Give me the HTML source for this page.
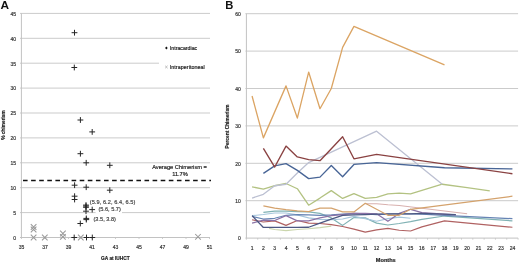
<!DOCTYPE html>
<html><head><meta charset="utf-8"><style>
html,body{margin:0;padding:0;background:#fff;}
body{width:520px;height:263px;position:relative;overflow:hidden;font-family:"Liberation Sans", sans-serif;}
svg{will-change:transform;}
svg text{font-family:"Liberation Sans", sans-serif;}
</style></head><body>
<svg width="520" height="263" viewBox="0 0 520 263" style="position:absolute;left:0;top:0">
<line x1="20" y1="212.6" x2="210.0" y2="212.6" stroke="#cbcbcb" stroke-width="1"/>
<line x1="20" y1="187.7" x2="210.0" y2="187.7" stroke="#cbcbcb" stroke-width="1"/>
<line x1="20" y1="162.8" x2="210.0" y2="162.8" stroke="#cbcbcb" stroke-width="1"/>
<line x1="20" y1="137.9" x2="210.0" y2="137.9" stroke="#cbcbcb" stroke-width="1"/>
<line x1="20" y1="113.0" x2="210.0" y2="113.0" stroke="#cbcbcb" stroke-width="1"/>
<line x1="20" y1="88.1" x2="210.0" y2="88.1" stroke="#cbcbcb" stroke-width="1"/>
<line x1="20" y1="63.2" x2="159" y2="63.2" stroke="#cbcbcb" stroke-width="1"/>
<line x1="20" y1="38.3" x2="210.0" y2="38.3" stroke="#cbcbcb" stroke-width="1"/>
<line x1="20" y1="13.4" x2="210.0" y2="13.4" stroke="#cbcbcb" stroke-width="1"/>
<line x1="21.4" y1="13.399999999999977" x2="21.4" y2="238.0" stroke="#c2c2c2" stroke-width="1"/>
<line x1="20" y1="237.5" x2="210.0" y2="237.5" stroke="#c2c2c2" stroke-width="1"/>
<line x1="21.5" y1="237.5" x2="21.5" y2="239.0" stroke="#c2c2c2" stroke-width="0.8"/>
<line x1="45.0" y1="237.5" x2="45.0" y2="239.0" stroke="#c2c2c2" stroke-width="0.8"/>
<line x1="68.5" y1="237.5" x2="68.5" y2="239.0" stroke="#c2c2c2" stroke-width="0.8"/>
<line x1="92.0" y1="237.5" x2="92.0" y2="239.0" stroke="#c2c2c2" stroke-width="0.8"/>
<line x1="115.5" y1="237.5" x2="115.5" y2="239.0" stroke="#c2c2c2" stroke-width="0.8"/>
<line x1="139.0" y1="237.5" x2="139.0" y2="239.0" stroke="#c2c2c2" stroke-width="0.8"/>
<line x1="162.5" y1="237.5" x2="162.5" y2="239.0" stroke="#c2c2c2" stroke-width="0.8"/>
<line x1="186.0" y1="237.5" x2="186.0" y2="239.0" stroke="#c2c2c2" stroke-width="0.8"/>
<line x1="209.5" y1="237.5" x2="209.5" y2="239.0" stroke="#c2c2c2" stroke-width="0.8"/>
<text x="16.0" y="239.8" text-anchor="end" font-size="5" fill="#333" stroke="#333" stroke-width="0.18">0</text>
<text x="16.0" y="214.9" text-anchor="end" font-size="5" fill="#333" stroke="#333" stroke-width="0.18">5</text>
<text x="16.0" y="190.0" text-anchor="end" font-size="5" fill="#333" stroke="#333" stroke-width="0.18">10</text>
<text x="16.0" y="165.1" text-anchor="end" font-size="5" fill="#333" stroke="#333" stroke-width="0.18">15</text>
<text x="16.0" y="140.2" text-anchor="end" font-size="5" fill="#333" stroke="#333" stroke-width="0.18">20</text>
<text x="16.0" y="115.3" text-anchor="end" font-size="5" fill="#333" stroke="#333" stroke-width="0.18">25</text>
<text x="16.0" y="90.4" text-anchor="end" font-size="5" fill="#333" stroke="#333" stroke-width="0.18">30</text>
<text x="16.0" y="65.5" text-anchor="end" font-size="5" fill="#333" stroke="#333" stroke-width="0.18">35</text>
<text x="16.0" y="40.6" text-anchor="end" font-size="5" fill="#333" stroke="#333" stroke-width="0.18">40</text>
<text x="16.0" y="15.7" text-anchor="end" font-size="5" fill="#333" stroke="#333" stroke-width="0.18">45</text>
<text x="21.5" y="249.35" text-anchor="middle" font-size="5" fill="#333" stroke="#333" stroke-width="0.18">35</text>
<text x="45.0" y="249.35" text-anchor="middle" font-size="5" fill="#333" stroke="#333" stroke-width="0.18">37</text>
<text x="68.5" y="249.35" text-anchor="middle" font-size="5" fill="#333" stroke="#333" stroke-width="0.18">39</text>
<text x="92.0" y="249.35" text-anchor="middle" font-size="5" fill="#333" stroke="#333" stroke-width="0.18">41</text>
<text x="115.5" y="249.35" text-anchor="middle" font-size="5" fill="#333" stroke="#333" stroke-width="0.18">43</text>
<text x="139.0" y="249.35" text-anchor="middle" font-size="5" fill="#333" stroke="#333" stroke-width="0.18">45</text>
<text x="162.5" y="249.35" text-anchor="middle" font-size="5" fill="#333" stroke="#333" stroke-width="0.18">47</text>
<text x="186.0" y="249.35" text-anchor="middle" font-size="5" fill="#333" stroke="#333" stroke-width="0.18">49</text>
<text x="209.5" y="249.35" text-anchor="middle" font-size="5" fill="#333" stroke="#333" stroke-width="0.18">51</text>
<line x1="23" y1="180.4" x2="211" y2="180.4" stroke="#111" stroke-width="1.5" stroke-dasharray="4.6 3.5"/>
<text x="179.5" y="168.85" text-anchor="middle" font-size="5.7" fill="#222" stroke="#222" stroke-width="0.18">Average Chimerism =</text>
<text x="180" y="175.75" text-anchor="middle" font-size="5.7" fill="#222" stroke="#222" stroke-width="0.18">11.7%</text>
<path d="M30.8 224.2L36.4 229.8M30.8 229.8L36.4 224.2" stroke="#9a9a9a" stroke-width="1.05" fill="none"/>
<path d="M30.8 226.7L36.4 232.3M30.8 232.3L36.4 226.7" stroke="#9a9a9a" stroke-width="1.05" fill="none"/>
<path d="M30.8 234.7L36.4 240.3M30.8 240.3L36.4 234.7" stroke="#9a9a9a" stroke-width="1.05" fill="none"/>
<path d="M42.0 234.7L47.6 240.3M42.0 240.3L47.6 234.7" stroke="#9a9a9a" stroke-width="1.05" fill="none"/>
<path d="M60.1 230.7L65.7 236.3M60.1 236.3L65.7 230.7" stroke="#9a9a9a" stroke-width="1.05" fill="none"/>
<path d="M60.1 234.1L65.7 239.7M60.1 239.7L65.7 234.1" stroke="#9a9a9a" stroke-width="1.05" fill="none"/>
<path d="M78.0 234.7L83.6 240.3M78.0 240.3L83.6 234.7" stroke="#9a9a9a" stroke-width="1.05" fill="none"/>
<path d="M195.2 234.0L200.8 239.6M195.2 239.6L200.8 234.0" stroke="#9a9a9a" stroke-width="1.05" fill="none"/>
<path d="M71.6 32.7H77.4M74.5 29.8V35.6" stroke="#262626" stroke-width="1.0" fill="none"/>
<path d="M71.4 67.5H77.2M74.3 64.6V70.4" stroke="#262626" stroke-width="1.0" fill="none"/>
<path d="M77.5 120.0H83.3M80.4 117.1V122.9" stroke="#262626" stroke-width="1.0" fill="none"/>
<path d="M89.3 131.9H95.1M92.2 129.0V134.8" stroke="#262626" stroke-width="1.0" fill="none"/>
<path d="M77.5 153.7H83.3M80.4 150.8V156.6" stroke="#262626" stroke-width="1.0" fill="none"/>
<path d="M83.3 162.8H89.1M86.2 159.9V165.7" stroke="#262626" stroke-width="1.0" fill="none"/>
<path d="M106.9 165.3H112.7M109.8 162.4V168.2" stroke="#262626" stroke-width="1.0" fill="none"/>
<path d="M71.7 185.2H77.5M74.6 182.3V188.1" stroke="#262626" stroke-width="1.0" fill="none"/>
<path d="M83.3 187.2H89.1M86.2 184.3V190.1" stroke="#262626" stroke-width="1.0" fill="none"/>
<path d="M106.9 190.2H112.7M109.8 187.3V193.1" stroke="#262626" stroke-width="1.0" fill="none"/>
<path d="M71.7 196.2H77.5M74.6 193.3V199.1" stroke="#262626" stroke-width="1.0" fill="none"/>
<path d="M71.7 199.5H77.5M74.6 196.6V202.4" stroke="#262626" stroke-width="1.0" fill="none"/>
<path d="M83.1 205.1H88.9M86 202.2V208.0" stroke="#262626" stroke-width="1.0" fill="none"/>
<path d="M83.1 206.1H88.9M86 203.2V209.0" stroke="#262626" stroke-width="1.0" fill="none"/>
<path d="M83.1 207.3H88.9M86 204.4V210.2" stroke="#262626" stroke-width="1.0" fill="none"/>
<path d="M83.1 211.2H88.9M86 208.3V214.1" stroke="#262626" stroke-width="1.0" fill="none"/>
<path d="M89.3 209.6H95.1M92.2 206.7V212.5" stroke="#262626" stroke-width="1.0" fill="none"/>
<path d="M83.4 218.4H89.2M86.3 215.5V221.3" stroke="#262626" stroke-width="1.0" fill="none"/>
<path d="M83.4 219.6H89.2M86.3 216.7V222.5" stroke="#262626" stroke-width="1.0" fill="none"/>
<path d="M77.4 223.5H83.2M80.3 220.6V226.4" stroke="#262626" stroke-width="1.0" fill="none"/>
<path d="M71.3 237.5H77.1M74.2 234.6V240.4" stroke="#262626" stroke-width="1.0" fill="none"/>
<path d="M83.6 237.5H89.4M86.5 234.6V240.4" stroke="#262626" stroke-width="1.0" fill="none"/>
<path d="M89.4 237.5H95.2M92.3 234.6V240.4" stroke="#262626" stroke-width="1.0" fill="none"/>
<text textLength="45.6" lengthAdjust="spacing" x="89.7" y="203.8" font-size="5.6" fill="#444" stroke="#444" stroke-width="0.18">(5.9, 6.2, 6.4, 6.5)</text>
<rect x="95.6" y="206.6" width="26.4" height="7" fill="#fff"/>
<text x="98.4" y="211.4" font-size="5.6" fill="#444" stroke="#444" stroke-width="0.18">(5.6, 5.7)</text>
<text x="93.5" y="221.1" font-size="5.6" fill="#444" stroke="#444" stroke-width="0.18">(3.5, 3.8)</text>
<rect x="159" y="42" width="52" height="32" fill="#fff"/>
<path d="M166.4 46.6L167.7 48.1L166.4 49.6L165.1 48.1Z" fill="#111"/>
<text x="169.8" y="50.2" font-size="5.25" fill="#222" stroke="#222" stroke-width="0.18">Intracardiac</text>
<path d="M165.2 65.8L167.6 68.2M165.2 68.2L167.6 65.8" stroke="#aaa" stroke-width="0.8" fill="none"/>
<text textLength="35.1" lengthAdjust="spacing" x="169.7" y="68.9" font-size="5.35" fill="#222" stroke="#222" stroke-width="0.18">Intraperitoneal</text>
<text transform="translate(0.55,9.2) scale(1.06,1)" font-size="11.2" font-weight="bold" fill="#111">A</text>
<text textLength="28.6" lengthAdjust="spacingAndGlyphs" x="101.1" y="260.4" font-size="5.0" font-weight="bold" fill="#222" stroke="#222" stroke-width="0.18">GA at IUHCT</text>
<text transform="translate(4.8,125.0) rotate(-90)" text-anchor="middle" font-size="4.8" font-weight="bold" fill="#222" stroke="#222" stroke-width="0.18">% chimerism</text>
<line x1="245.4" y1="200.7" x2="518.08" y2="200.7" stroke="#cbcbcb" stroke-width="1"/>
<line x1="245.4" y1="163.3" x2="518.08" y2="163.3" stroke="#cbcbcb" stroke-width="1"/>
<line x1="245.4" y1="125.9" x2="518.08" y2="125.9" stroke="#cbcbcb" stroke-width="1"/>
<line x1="245.4" y1="88.5" x2="518.08" y2="88.5" stroke="#cbcbcb" stroke-width="1"/>
<line x1="245.4" y1="51.1" x2="518.08" y2="51.1" stroke="#cbcbcb" stroke-width="1"/>
<line x1="245.4" y1="13.7" x2="518.08" y2="13.7" stroke="#cbcbcb" stroke-width="1"/>
<line x1="246.4" y1="13.7" x2="246.4" y2="238.1" stroke="#c2c2c2" stroke-width="1"/>
<line x1="245.4" y1="238.1" x2="518.08" y2="238.1" stroke="#c2c2c2" stroke-width="1"/>
<line x1="246.4" y1="238.1" x2="246.4" y2="239.7" stroke="#c2c2c2" stroke-width="0.8"/>
<line x1="257.72" y1="238.1" x2="257.72" y2="239.7" stroke="#c2c2c2" stroke-width="0.8"/>
<line x1="269.04" y1="238.1" x2="269.04" y2="239.7" stroke="#c2c2c2" stroke-width="0.8"/>
<line x1="280.36" y1="238.1" x2="280.36" y2="239.7" stroke="#c2c2c2" stroke-width="0.8"/>
<line x1="291.68" y1="238.1" x2="291.68" y2="239.7" stroke="#c2c2c2" stroke-width="0.8"/>
<line x1="303.0" y1="238.1" x2="303.0" y2="239.7" stroke="#c2c2c2" stroke-width="0.8"/>
<line x1="314.32" y1="238.1" x2="314.32" y2="239.7" stroke="#c2c2c2" stroke-width="0.8"/>
<line x1="325.64" y1="238.1" x2="325.64" y2="239.7" stroke="#c2c2c2" stroke-width="0.8"/>
<line x1="336.96" y1="238.1" x2="336.96" y2="239.7" stroke="#c2c2c2" stroke-width="0.8"/>
<line x1="348.28" y1="238.1" x2="348.28" y2="239.7" stroke="#c2c2c2" stroke-width="0.8"/>
<line x1="359.6" y1="238.1" x2="359.6" y2="239.7" stroke="#c2c2c2" stroke-width="0.8"/>
<line x1="370.92" y1="238.1" x2="370.92" y2="239.7" stroke="#c2c2c2" stroke-width="0.8"/>
<line x1="382.24" y1="238.1" x2="382.24" y2="239.7" stroke="#c2c2c2" stroke-width="0.8"/>
<line x1="393.56" y1="238.1" x2="393.56" y2="239.7" stroke="#c2c2c2" stroke-width="0.8"/>
<line x1="404.88" y1="238.1" x2="404.88" y2="239.7" stroke="#c2c2c2" stroke-width="0.8"/>
<line x1="416.2" y1="238.1" x2="416.2" y2="239.7" stroke="#c2c2c2" stroke-width="0.8"/>
<line x1="427.52" y1="238.1" x2="427.52" y2="239.7" stroke="#c2c2c2" stroke-width="0.8"/>
<line x1="438.84" y1="238.1" x2="438.84" y2="239.7" stroke="#c2c2c2" stroke-width="0.8"/>
<line x1="450.16" y1="238.1" x2="450.16" y2="239.7" stroke="#c2c2c2" stroke-width="0.8"/>
<line x1="461.48" y1="238.1" x2="461.48" y2="239.7" stroke="#c2c2c2" stroke-width="0.8"/>
<line x1="472.8" y1="238.1" x2="472.8" y2="239.7" stroke="#c2c2c2" stroke-width="0.8"/>
<line x1="484.12" y1="238.1" x2="484.12" y2="239.7" stroke="#c2c2c2" stroke-width="0.8"/>
<line x1="495.44" y1="238.1" x2="495.44" y2="239.7" stroke="#c2c2c2" stroke-width="0.8"/>
<line x1="506.76" y1="238.1" x2="506.76" y2="239.7" stroke="#c2c2c2" stroke-width="0.8"/>
<line x1="518.08" y1="238.1" x2="518.08" y2="239.7" stroke="#c2c2c2" stroke-width="0.8"/>
<text x="240.9" y="240.4" text-anchor="end" font-size="5" fill="#333" stroke="#333" stroke-width="0.18">0</text>
<text x="240.9" y="203.0" text-anchor="end" font-size="5" fill="#333" stroke="#333" stroke-width="0.18">10</text>
<text x="240.9" y="165.6" text-anchor="end" font-size="5" fill="#333" stroke="#333" stroke-width="0.18">20</text>
<text x="240.9" y="128.2" text-anchor="end" font-size="5" fill="#333" stroke="#333" stroke-width="0.18">30</text>
<text x="240.9" y="90.8" text-anchor="end" font-size="5" fill="#333" stroke="#333" stroke-width="0.18">40</text>
<text x="240.9" y="53.4" text-anchor="end" font-size="5" fill="#333" stroke="#333" stroke-width="0.18">50</text>
<text x="240.9" y="16.0" text-anchor="end" font-size="5" fill="#333" stroke="#333" stroke-width="0.18">60</text>
<text x="252.06" y="249.8" text-anchor="middle" font-size="5" fill="#333" stroke="#333" stroke-width="0.18">1</text>
<text x="263.38" y="249.8" text-anchor="middle" font-size="5" fill="#333" stroke="#333" stroke-width="0.18">2</text>
<text x="274.7" y="249.8" text-anchor="middle" font-size="5" fill="#333" stroke="#333" stroke-width="0.18">3</text>
<text x="286.02" y="249.8" text-anchor="middle" font-size="5" fill="#333" stroke="#333" stroke-width="0.18">4</text>
<text x="297.34" y="249.8" text-anchor="middle" font-size="5" fill="#333" stroke="#333" stroke-width="0.18">5</text>
<text x="308.66" y="249.8" text-anchor="middle" font-size="5" fill="#333" stroke="#333" stroke-width="0.18">6</text>
<text x="319.98" y="249.8" text-anchor="middle" font-size="5" fill="#333" stroke="#333" stroke-width="0.18">7</text>
<text x="331.3" y="249.8" text-anchor="middle" font-size="5" fill="#333" stroke="#333" stroke-width="0.18">8</text>
<text x="342.62" y="249.8" text-anchor="middle" font-size="5" fill="#333" stroke="#333" stroke-width="0.18">9</text>
<text x="353.94" y="249.8" text-anchor="middle" font-size="5" fill="#333" stroke="#333" stroke-width="0.18">10</text>
<text x="365.26" y="249.8" text-anchor="middle" font-size="5" fill="#333" stroke="#333" stroke-width="0.18">11</text>
<text x="376.58" y="249.8" text-anchor="middle" font-size="5" fill="#333" stroke="#333" stroke-width="0.18">12</text>
<text x="387.9" y="249.8" text-anchor="middle" font-size="5" fill="#333" stroke="#333" stroke-width="0.18">13</text>
<text x="399.22" y="249.8" text-anchor="middle" font-size="5" fill="#333" stroke="#333" stroke-width="0.18">14</text>
<text x="410.54" y="249.8" text-anchor="middle" font-size="5" fill="#333" stroke="#333" stroke-width="0.18">15</text>
<text x="421.86" y="249.8" text-anchor="middle" font-size="5" fill="#333" stroke="#333" stroke-width="0.18">16</text>
<text x="433.18" y="249.8" text-anchor="middle" font-size="5" fill="#333" stroke="#333" stroke-width="0.18">17</text>
<text x="444.5" y="249.8" text-anchor="middle" font-size="5" fill="#333" stroke="#333" stroke-width="0.18">18</text>
<text x="455.82" y="249.8" text-anchor="middle" font-size="5" fill="#333" stroke="#333" stroke-width="0.18">19</text>
<text x="467.14" y="249.8" text-anchor="middle" font-size="5" fill="#333" stroke="#333" stroke-width="0.18">20</text>
<text x="478.46" y="249.8" text-anchor="middle" font-size="5" fill="#333" stroke="#333" stroke-width="0.18">21</text>
<text x="489.78" y="249.8" text-anchor="middle" font-size="5" fill="#333" stroke="#333" stroke-width="0.18">22</text>
<text x="501.1" y="249.8" text-anchor="middle" font-size="5" fill="#333" stroke="#333" stroke-width="0.18">23</text>
<text x="512.42" y="249.8" text-anchor="middle" font-size="5" fill="#333" stroke="#333" stroke-width="0.18">24</text>
<text x="225.25" y="9.2" font-size="11.2" font-weight="bold" fill="#111">B</text>
<text x="385.8" y="261.6" text-anchor="middle" font-size="5.6" font-weight="bold" fill="#222" stroke="#222" stroke-width="0.18">Months</text>
<text transform="translate(229.3,126.4) rotate(-90)" text-anchor="middle" font-size="4.85" font-weight="bold" fill="#222" stroke="#222" stroke-width="0.18">Percent Chimerism</text>
<polyline points="269.04,228.38 274.7,229.5 286.02,230.62 297.34,229.5 308.66,228.75 319.98,227.63 331.3,226.13" fill="none" stroke="#cbd6ad" stroke-width="1.1" stroke-linejoin="round"/>
<polyline points="252.06,219.77 263.38,222.02 274.7,220.9 286.02,225.38 297.34,220.52 308.66,223.14 319.98,223.51 331.3,224.64 342.62,226.51 353.94,229.12 365.26,232.12 376.58,229.87 387.9,228.38 399.22,230.25 410.54,230.99 421.86,226.88 444.5,220.9 512.42,227.25" fill="none" stroke="#b06262" stroke-width="1.2" stroke-linejoin="round"/>
<polyline points="263.38,212.29 274.7,211.17 286.02,211.17 297.34,211.55 308.66,211.92 319.98,213.42 331.3,217.9 342.62,225.38 353.94,217.53 365.26,217.9 376.58,223.14 387.9,225.01 399.22,223.51 410.54,221.64 421.86,219.4 444.5,216.03 512.42,220.9" fill="none" stroke="#80b2b4" stroke-width="1.2" stroke-linejoin="round"/>
<polyline points="252.06,215.66 263.38,214.54 274.7,213.04 286.02,213.04 297.34,214.91 308.66,217.9 319.98,219.4 331.3,219.77 342.62,219.03 353.94,216.41 365.26,218.65 376.58,221.27 387.9,218.65 399.22,217.16 410.54,218.28" fill="none" stroke="#a6c6dc" stroke-width="1.1" stroke-linejoin="round"/>
<polyline points="252.06,216.41 263.38,219.03 274.7,218.28 286.02,215.29 297.34,214.54 308.66,214.91 319.98,215.29 331.3,214.91 342.62,214.16 353.94,213.42 365.26,213.79 376.58,214.54 387.9,214.16 399.22,213.79 410.54,213.79 421.86,214.16 444.5,215.29 512.42,218.65" fill="none" stroke="#6684b4" stroke-width="1.2" stroke-linejoin="round"/>
<polyline points="252.06,223.14 263.38,220.15 274.7,220.52 286.02,215.66 297.34,220.9 308.66,220.9 319.98,217.9 331.3,215.66 342.62,214.54 353.94,213.42 365.26,213.42 376.58,213.79 387.9,221.27 399.22,213.42 410.54,209.3 421.86,212.67 455.82,214.91" fill="none" stroke="#8a72a6" stroke-width="1.2" stroke-linejoin="round"/>
<polyline points="252.06,215.66 263.38,227.44 274.7,227.44 286.02,227.44 297.34,227.44 308.66,227.25 319.98,223.14 331.3,219.21 342.62,215.29 353.94,214.91 365.26,214.54 376.58,214.16 387.9,213.79 399.22,213.79 410.54,213.79 421.86,213.42 455.82,214.54" fill="none" stroke="#4d5882" stroke-width="1.3" stroke-linejoin="round"/>
<polyline points="365.26,203.69 376.58,203.69 387.9,204.81 399.22,205.56 421.86,208.18 467.14,213.79" fill="none" stroke="#d8b0ae" stroke-width="1.1" stroke-linejoin="round"/>
<polyline points="263.38,205.94 274.7,208.18 286.02,209.68 297.34,210.8 308.66,211.55 319.98,208.18 331.3,208.18 342.62,211.92 353.94,211.92 365.26,203.32 376.58,209.3 387.9,215.29 399.22,215.29 410.54,209.3 512.42,196.21" fill="none" stroke="#d4a26c" stroke-width="1.2" stroke-linejoin="round"/>
<polyline points="252.06,186.86 263.38,189.11 274.7,185.74 286.02,183.5 297.34,188.73 308.66,205.19 319.98,198.08 331.3,190.6 342.62,198.46 353.94,193.59 365.26,198.46 376.58,197.33 387.9,193.97 399.22,193.22 410.54,193.97 442.24,184.24 467.14,187.61 489.78,190.98" fill="none" stroke="#b3c282" stroke-width="1.3" stroke-linejoin="round"/>
<polyline points="252.06,198.08 263.38,194.34 274.7,185.74 286.02,184.24 297.34,173.02 308.66,162.55 376.58,131.14 442.24,184.24" fill="none" stroke="#bcc0d2" stroke-width="1.3" stroke-linejoin="round"/>
<polyline points="263.38,173.4 274.7,165.92 286.02,163.67 297.34,170.41 308.66,178.63 319.98,177.14 331.3,165.54 342.62,176.76 353.94,164.42 376.58,162.55 444.5,167.79 512.42,168.91" fill="none" stroke="#486596" stroke-width="1.35" stroke-linejoin="round"/>
<polyline points="263.38,148.34 274.7,167.04 286.02,146.1 297.34,156.94 308.66,159.56 319.98,160.68 342.62,136.75 353.94,158.81 376.58,154.32 512.42,173.77" fill="none" stroke="#8a4242" stroke-width="1.35" stroke-linejoin="round"/>
<polyline points="252.06,95.98 263.38,137.87 286.02,85.88 297.34,118.05 308.66,72.04 319.98,108.7 331.3,88.5 342.62,47.36 353.94,26.42 444.5,64.94" fill="none" stroke="#dba463" stroke-width="1.3" stroke-linejoin="round"/>
</svg>
</body></html>
